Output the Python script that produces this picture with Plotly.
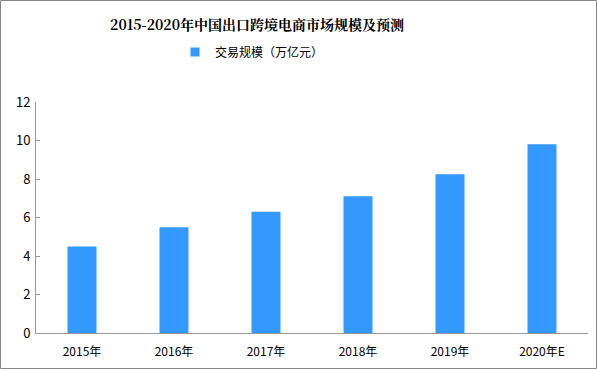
import plotly.graph_objects as go

categories = ["2015年", "2016年", "2017年", "2018年", "2019年", "2020年E"]
values = [4.5, 5.5, 6.3, 7.1, 8.25, 9.8]
series_name = "交易规模（万亿元）"
title_text = "2015-2020年中国出口跨境电商市场规模及预测"
y_ticks = [0, 2, 4, 6, 8, 10, 12]

W, H = 597, 369
ml, mr, mt, mb = 36, 9, 102, 36
pw = W - ml - mr
ph = H - mt - mb
bar_color = "#3399ff"

fig = go.Figure()
fig.add_trace(go.Bar(
    x=categories, y=values, name=series_name,
    marker=dict(color=bar_color, line=dict(width=0)),
    showlegend=False,
))
# legend entry (small square swatch)
fig.add_trace(go.Scatter(
    x=[None], y=[None], mode="markers", name=series_name,
    marker=dict(symbol="square", size=9, color=bar_color),
    showlegend=True,
))

font_cjk = "Noto Sans CJK SC, Noto Sans, sans-serif"

fig.update_layout(
    width=W, height=H,
    margin=dict(l=ml, r=mr, t=mt, b=mb),
    paper_bgcolor="white", plot_bgcolor="white",
    bargap=0.685,
    font=dict(family=font_cjk, size=12, color="#000"),
    title=dict(text="<b>" + title_text + "</b>", x=257 / W, xref="container", xanchor="center",
               y=1 - 25 / H, yref="container", yanchor="middle",
               font=dict(family="Noto Serif CJK SC, Noto Sans CJK SC, serif", size=14, color="#000")),
    legend=dict(orientation="h", x=(175 - ml) / pw, xanchor="left", y=1 + (mt - 52) / ph, yanchor="middle",
                font=dict(size=12, color="#000"), itemwidth=30, bgcolor="rgba(0,0,0,0)"),
    xaxis=dict(showline=True, linecolor="#999", linewidth=1, ticks="", showgrid=False,
               tickfont=dict(size=12, color="#000"), ticklabelstandoff=8, fixedrange=True),
    yaxis=dict(range=[0, 12], tickvals=y_ticks, showline=True, linecolor="#999", linewidth=1,
               ticks="inside", ticklen=4, tickcolor="#999", showgrid=False, zeroline=False,
               tickfont=dict(size=13, color="#000"), ticklabelstandoff=2, fixedrange=True),
    shapes=[dict(type="rect", xref="paper", yref="paper",
                 x0=-(ml - 0.5) / pw, x1=1 + (mr - 0.5) / pw,
                 y0=-(mb - 0.5) / ph, y1=1 + (mt - 0.5) / ph,
                 line=dict(color="#888", width=1), fillcolor="rgba(0,0,0,0)", layer="above")],
)

fig.write_html("out.html")
